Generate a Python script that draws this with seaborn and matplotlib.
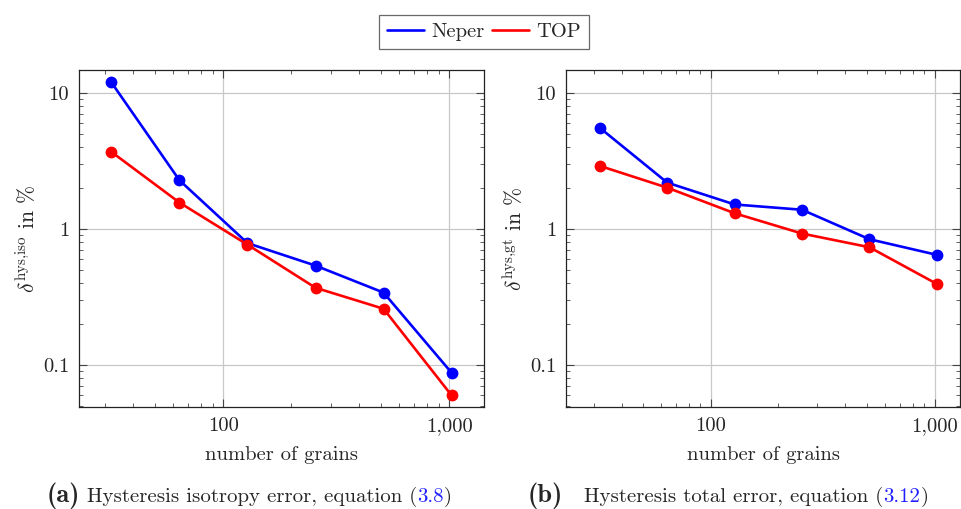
import numpy as np
import pandas as pd
import seaborn as sns
import matplotlib.pyplot as plt
from matplotlib.lines import Line2D
from matplotlib.ticker import LogLocator, FuncFormatter, NullFormatter

# Number of grains per microstructure
grains = [32, 64, 128, 256, 512, 1024]

# Hysteresis isotropy error in %
iso_neper = [12.0, 2.29, 0.79, 0.54, 0.342, 0.088]
iso_top = [3.70, 1.57, 0.77, 0.371, 0.26, 0.060]

# Hysteresis total error in %
gt_neper = [5.56, 2.20, 1.52, 1.39, 0.844, 0.648]
gt_top = [2.92, 2.02, 1.31, 0.929, 0.737, 0.396]

methods = ["Neper", "TOP"]
colors = {"Neper": "#0000ff", "TOP": "#ff0000"}

FS = 14.8


def long_form(neper, top):
    return pd.DataFrame({
        "grains": grains * 2,
        "error": neper + top,
        "method": ["Neper"] * len(grains) + ["TOP"] * len(grains),
    })


sns.set_theme(style="ticks")
plt.rcParams["font.family"] = ["cmr10", "DejaVu Serif"]
plt.rcParams["mathtext.fontset"] = "cm"
plt.rcParams["axes.unicode_minus"] = False
plt.rcParams["axes.formatter.use_mathtext"] = True

fig = plt.figure(figsize=(9.61, 5.09), dpi=100)
ax_a = fig.add_axes([0.0822, 0.2004, 0.4214, 0.662])
ax_b = fig.add_axes([0.589, 0.2004, 0.4100, 0.662])

panels = [
    (ax_a, long_form(iso_neper, iso_top), r"$\delta^{\mathrm{hys{,}iso}}$ in %", (23.0, 1424.0)),
    (ax_b, long_form(gt_neper, gt_top), r"$\delta^{\mathrm{hys{,}gt}}$ in %", (22.6, 1300.0)),
]


def tick_fmt(v, _):
    if v >= 1:
        return f"{v:,.0f}"
    return f"{v:g}"


for ax, df, ylabel, xlim in panels:
    sns.lineplot(data=df, x="grains", y="error", hue="method", hue_order=methods,
                 palette=colors, marker="o", markersize=8.5, markeredgewidth=0,
                 linewidth=1.9, ax=ax, legend=False, zorder=3)
    ax.set_xscale("log")
    ax.set_yscale("log")
    ax.set_xlim(*xlim)
    ax.set_ylim(0.0493, 14.8)
    for axis in (ax.xaxis, ax.yaxis):
        axis.set_major_locator(LogLocator(base=10))
        axis.set_minor_locator(LogLocator(base=10, subs=np.arange(2, 10)))
        axis.set_major_formatter(FuncFormatter(tick_fmt))
        axis.set_minor_formatter(NullFormatter())
    ax.grid(True, which="major", color="#c8c8c8", linewidth=0.9, zorder=0)
    ax.tick_params(which="both", direction="in", top=True, right=True,
                   color="#444444", labelsize=FS, pad=7)
    ax.tick_params(which="major", length=5.5, width=0.8)
    ax.tick_params(which="minor", length=3.2, width=0.6)
    for s in ax.spines.values():
        s.set_color("#222222")
        s.set_linewidth(0.9)
    ax.set_xlabel("number of grains", fontsize=FS, labelpad=8)
    ax.set_ylabel(ylabel, fontsize=15.5, labelpad=3)

# Shared legend across both panels
handles = [Line2D([], [], color=colors[m], linewidth=1.9) for m in methods]
leg = fig.legend(handles, methods, loc="center", bbox_to_anchor=(0.5035, 0.937),
                 ncol=2, frameon=True, fancybox=False, fontsize=FS,
                 handlelength=1.8, handletextpad=0.35, columnspacing=0.35,
                 borderpad=0.4, borderaxespad=0)
leg.get_frame().set_edgecolor("#444444")
leg.get_frame().set_linewidth(0.9)

# Sub-captions with coloured equation references
fig.canvas.draw()
renderer = fig.canvas.get_renderer()


def caption(x, y, parts):
    for txt, kw in parts:
        style = dict(va="baseline", ha="left", fontsize=15.0)
        style.update(kw)
        t = fig.text(x, y, txt, **style)
        bb = t.get_window_extent(renderer=renderer)
        x = bb.x1 / fig.bbox.width


cap_y = 1 - 502 / 509
caption(47 / 961, cap_y, [
    ("(a)", dict(family="cmb10", fontsize=19)),
    (" Hysteresis isotropy error, equation (", {}),
    ("3.8", dict(color="#1f1fff")),
    (")", {}),
])
caption(528 / 961, cap_y, [
    ("(b)", dict(family="cmb10", fontsize=19)),
    ("   Hysteresis total error, equation (", {}),
    ("3.12", dict(color="#1f1fff")),
    (")", {}),
])

fig.savefig("out.png", dpi=100)
